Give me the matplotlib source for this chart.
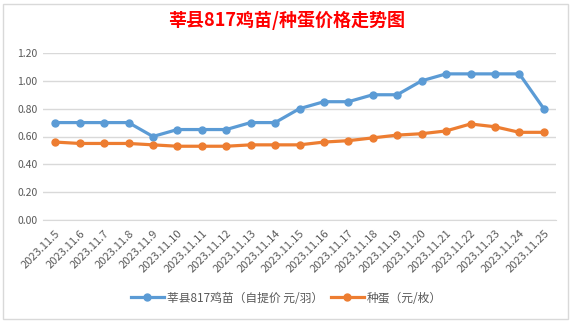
import matplotlib
matplotlib.use('Agg')
from matplotlib import pyplot as plt
from matplotlib.patches import Rectangle

plt.rcParams['font.family'] = ['Noto Sans CJK SC', 'DejaVu Sans']

# Data
dates = ['2023.11.5', '2023.11.6', '2023.11.7', '2023.11.8', '2023.11.9', '2023.11.10',
         '2023.11.11', '2023.11.12', '2023.11.13', '2023.11.14', '2023.11.15', '2023.11.16',
         '2023.11.17', '2023.11.18', '2023.11.19', '2023.11.20', '2023.11.21', '2023.11.22',
         '2023.11.23', '2023.11.24', '2023.11.25']
chick = [0.70, 0.70, 0.70, 0.70, 0.60, 0.65, 0.65, 0.65, 0.70, 0.70, 0.80, 0.85,
         0.85, 0.90, 0.90, 1.00, 1.05, 1.05, 1.05, 1.05, 0.80]
egg = [0.56, 0.55, 0.55, 0.55, 0.54, 0.53, 0.53, 0.53, 0.54, 0.54, 0.54, 0.56,
       0.57, 0.59, 0.61, 0.62, 0.64, 0.69, 0.67, 0.63, 0.63]
yticks = [0.0, 0.2, 0.4, 0.6, 0.8, 1.0, 1.2]

W, H = 573, 322
fig = plt.figure(figsize=(W / 100, H / 100), dpi=100)
fig.patch.set_facecolor('white')
fig.patches.append(Rectangle((3 / W, 3 / H), 565 / W, 315 / H, transform=fig.transFigure,
                             fill=False, edgecolor='#d9d9d9', linewidth=1))

ax = fig.add_axes([43 / W, 1 - 220 / H, 513 / W, 167 / H])
x = list(range(len(dates)))
ax.plot(x, chick, color='#5B9BD5', linewidth=2.3, marker='o', markersize=5,
        label='莘县817鸡苗（自提价 元/羽）')
ax.plot(x, egg, color='#ED7D31', linewidth=2.3, marker='o', markersize=5,
        label='种蛋（元/枚）')

ax.set_xlim(-0.5, len(dates) - 0.5)
ax.set_ylim(0, 1.2)
ax.set_yticks(yticks)
ax.set_yticklabels(['%.2f' % v for v in yticks], fontsize=7.5, color='#595959')
ax.set_xticks(x)
ax.set_xticklabels(dates, rotation=45, ha='right', va='top', rotation_mode='anchor',
                   fontsize=8, color='#595959')
ax.tick_params(length=0, pad=4)
ax.tick_params(axis='x', pad=6)
ax.grid(axis='y', color='#d9d9d9', linewidth=1)
ax.set_axisbelow(True)
for s in ['top', 'right', 'left']:
    ax.spines[s].set_visible(False)
ax.spines['bottom'].set_color('#d9d9d9')

fig.text(0.5, 1 - 20 / H, '莘县817鸡苗/种蛋价格走势图', ha='center', va='center',
         fontsize=13, fontweight='bold', color='#FF0000')

fig.legend(loc='center', bbox_to_anchor=(0.5, 1 - 298 / H), ncol=2, frameon=False,
           fontsize=8.5, handlelength=2.8, columnspacing=0.6, handletextpad=0.3,
           labelcolor='#595959')

fig.savefig('out.png', dpi=100)
